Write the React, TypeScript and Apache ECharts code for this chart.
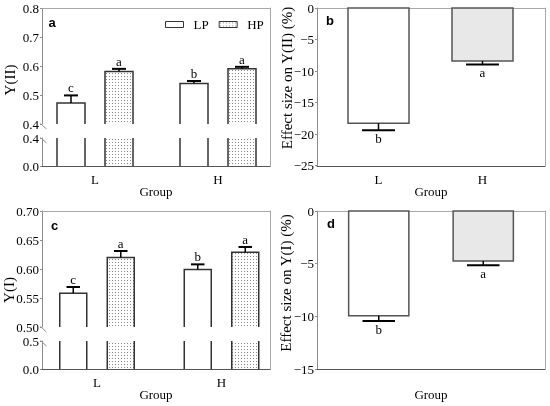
import React, { useEffect, useRef } from 'react';
import * as echarts from 'echarts';

// ---------- data ----------
const groups = ['L', 'H'];

// panel a : Y(II)
const yIILP = [0.473, 0.540];
const yIILPErr = [0.026, 0.009];
const yIIHP = [0.582, 0.591];
const yIIHPErr = [0.009, 0.007];
const yIILPLetters = ['c', 'b'];
const yIIHPLetters = ['a', 'a'];
const yIIUpperAxis = [0.4, 0.8, 0.1]; // min, max, interval
const yIILowerAxis = [0, 0.4, 0.4];

// panel b : effect size on Y(II)
const effIIValues = [-18.3, -8.4];
const effIIErr = [1.1, 0.55];
const effIILetters = ['b', 'a'];
const effIIAxis = [-25, 0, 5];

// panel c : Y(I)
const yILP = [0.558, 0.599];
const yILPErr = [0.011, 0.009];
const yIHP = [0.620, 0.629];
const yIHPErr = [0.011, 0.009];
const yILPLetters = ['c', 'b'];
const yIHPLetters = ['a', 'a'];
const yIUpperAxis = [0.5, 0.7, 0.05];
const yILowerAxis = [0, 0.5, 0.5];

// panel d : effect size on Y(I)
const effIValues = [-9.95, -4.75];
const effIErr = [0.5, 0.4];
const effILetters = ['b', 'a'];
const effIAxis = [-15, 0, 5];

// ---------- styles ----------
const SERIF = '"Liberation Serif", "Times New Roman", serif';
const SANS = '"Liberation Sans", Arial, sans-serif';
const AX_GRAY = '#8c8c8c';
const FRAME_GRAY = '#a8a8a8';
const BOTTOM_GRAY = '#555555';
const BAR_STROKE = '#333333';
const EFF_STROKE = '#555555';
const EFF_FILLS = ['#ffffff', '#e8e8e8'];

function makeDots() {
  const c = document.createElement('canvas');
  c.width = 3;
  c.height = 3;
  const ctx = c.getContext('2d')!;
  ctx.fillStyle = '#ffffff';
  ctx.fillRect(0, 0, 3, 3);
  ctx.fillStyle = '#8a8a8a';
  ctx.fillRect(1, 1, 1, 1);
  return { image: c, repeat: 'repeat', imageWidth: 3, imageHeight: 3 };
}

function frameX(gridIndex: number, position: string, color: string, name?: string) {
  return {
    type: 'value', gridIndex, position, min: 0, max: 1,
    axisLine: { show: true, onZero: false, lineStyle: { color, width: 1 } },
    axisTick: { show: false }, axisLabel: { show: false }, splitLine: { show: false },
    name: name || '', nameLocation: 'middle', nameGap: 19,
    nameTextStyle: { color: '#000', fontSize: 13, fontFamily: SERIF },
  };
}
function frameY(gridIndex: number, position: string, show: boolean) {
  return {
    type: 'value', gridIndex, position, min: 0, max: 1, show,
    axisLine: { show: true, onZero: false, lineStyle: { color: FRAME_GRAY, width: 1 } },
    axisTick: { show: false }, axisLabel: { show: false }, splitLine: { show: false },
  };
}
function catX(gridIndex: number, showLabels: boolean) {
  return {
    type: 'category', gridIndex, data: groups, position: 'bottom',
    axisLine: { show: false, onZero: false }, axisTick: { show: false },
    axisLabel: { show: showLabels, margin: 7, color: '#000', fontSize: 13, fontFamily: SERIF },
    splitLine: { show: false },
  };
}
function valY(gridIndex: number, ax: number[], offset: number, fmt: (v: number) => string) {
  return {
    type: 'value', gridIndex, position: 'left', min: ax[0], max: ax[1], interval: ax[2], offset,
    axisLine: { show: true, onZero: false, lineStyle: { color: AX_GRAY, width: 1 } },
    axisTick: { show: true, length: 2, lineStyle: { color: AX_GRAY } },
    axisLabel: { margin: 3, color: '#000', fontSize: 13, fontFamily: SERIF, formatter: fmt },
    splitLine: { show: false },
  };
}

function upperRender(side: number, wRatio: number, offRatio: number, letters: string[], fill: any) {
  return (params: any, api: any) => {
    const i = api.value(0);
    const v = api.value(1);
    const e = api.value(2);
    const cs = params.coordSys;
    const band = api.size([1, 0])[0];
    const w = band * wRatio;
    const p = api.coord([i, v]);
    const cx = p[0] + side * band * offRatio;
    const bottom = cs.y + cs.height;
    const top = Math.max(p[1], cs.y);
    const yErr = api.coord([i, v + e])[1];
    const x0 = cx - w / 2;
    const x1 = cx + w / 2;
    const cap = w * 0.25;
    return {
      type: 'group',
      children: [
        { type: 'rect', shape: { x: x0, y: top, width: w, height: bottom - top }, style: { fill } },
        { type: 'polyline', shape: { points: [[x0, bottom], [x0, top], [x1, top], [x1, bottom]] }, style: { stroke: BAR_STROKE, lineWidth: 1.5, fill: null } },
        { type: 'line', shape: { x1: cx, y1: top, x2: cx, y2: yErr }, style: { stroke: '#000', lineWidth: 1.5 } },
        { type: 'line', shape: { x1: cx - cap, y1: yErr, x2: cx + cap, y2: yErr }, style: { stroke: '#000', lineWidth: 2 } },
        { type: 'text', x: cx, y: yErr - 7.5, style: { text: letters[i], fill: '#000', fontSize: 13, fontFamily: SERIF, align: 'center', verticalAlign: 'middle' } },
      ],
    };
  };
}

function lowerRender(side: number, wRatio: number, offRatio: number, fill: any) {
  return (params: any, api: any) => {
    const i = api.value(0);
    const v = api.value(1);
    const cs = params.coordSys;
    const band = api.size([1, 0])[0];
    const w = band * wRatio;
    const p = api.coord([i, v]);
    const cx = p[0] + side * band * offRatio;
    const bottom = api.coord([i, 0])[1];
    const top = Math.max(p[1], cs.y);
    const x0 = cx - w / 2;
    const x1 = cx + w / 2;
    return {
      type: 'group',
      children: [
        { type: 'rect', shape: { x: x0, y: top, width: w, height: bottom - top }, style: { fill } },
        { type: 'line', shape: { x1: x0, y1: bottom, x2: x0, y2: top }, style: { stroke: BAR_STROKE, lineWidth: 1.5 } },
        { type: 'line', shape: { x1: x1, y1: bottom, x2: x1, y2: top }, style: { stroke: BAR_STROKE, lineWidth: 1.5 } },
      ],
    };
  };
}

function breakRender(axisOffset: number) {
  return (params: any, api: any) => {
    const y = api.coord([0, api.value(1)])[1];
    const x = params.coordSys.x - axisOffset;
    return { type: 'line', shape: { x1: x - 1.5, y1: y - 0.5, x2: x + 4.5, y2: y + 5 }, style: { stroke: AX_GRAY, lineWidth: 1 } };
  };
}

function effectRender(wRatio: number, letters: string[]) {
  return (params: any, api: any) => {
    const i = api.value(0);
    const v = api.value(1);
    const e = api.value(2);
    const band = api.size([1, 0])[0];
    const w = band * wRatio;
    const p = api.coord([i, v]);
    const cx = p[0];
    const y0 = api.coord([i, 0])[1];
    const yErr = api.coord([i, v - e])[1];
    const cap = w * 0.27;
    return {
      type: 'group',
      children: [
        { type: 'rect', shape: { x: cx - w / 2, y: y0, width: w, height: p[1] - y0 }, style: { fill: EFF_FILLS[i], stroke: EFF_STROKE, lineWidth: 1.5 } },
        { type: 'line', shape: { x1: cx, y1: p[1], x2: cx, y2: yErr }, style: { stroke: '#000', lineWidth: 1.5 } },
        { type: 'line', shape: { x1: cx - cap, y1: yErr, x2: cx + cap, y2: yErr }, style: { stroke: '#000', lineWidth: 2 } },
        { type: 'text', x: cx, y: yErr + 8, style: { text: letters[i], fill: '#000', fontSize: 13, fontFamily: SERIF, align: 'center', verticalAlign: 'middle' } },
      ],
    };
  };
}

const triples = (vals: number[], errs: number[]) => vals.map((v, i) => [i, v, errs[i]]);

export default function App() {
  const ref = useRef<HTMLDivElement>(null);
  useEffect(() => {
    if (!ref.current) return;
    const chart = echarts.init(ref.current, null, { renderer: 'svg' });
    const dots = makeDots();
    const f1 = (v: number) => v.toFixed(1);
    const f2 = (v: number) => v.toFixed(2);
    const fm = (v: number) => (v < 0 ? '\u2212' + Math.abs(v) : String(v));

    const A_OFF = -8.5; // y axis shift for a panels
    const C_OFF = -7.25;
    const B_OFF = 9.5;

    const grid = [
      { left: 42, top: 8, width: 228, height: 158 },      // 0 a frame
      { left: 33.5, top: 8.5, width: 246, height: 115.5 }, // 1 a upper
      { left: 33.5, top: 138, width: 246, height: 28 },    // 2 a lower
      { left: 317, top: 8, width: 228, height: 158 },     // 3 b frame
      { left: 326.5, top: 8, width: 208, height: 157.5 },  // 4 b bars
      { left: 42, top: 211, width: 228, height: 158 },    // 5 c frame
      { left: 34.75, top: 211, width: 249, height: 116 },  // 6 c upper
      { left: 34.75, top: 341, width: 249, height: 28 },   // 7 c lower
      { left: 317, top: 211, width: 228, height: 158 },   // 8 d frame
      { left: 326.5, top: 211, width: 209, height: 158 },  // 9 d bars
    ].map((g) => ({ ...g, containLabel: false, outerBoundsMode: 'none' }));

    const xAxis = [
      frameX(0, 'bottom', BOTTOM_GRAY, 'Group'), // 0
      frameX(0, 'top', FRAME_GRAY),             // 1
      catX(1, false),                            // 2
      catX(2, true),                             // 3
      frameX(3, 'bottom', BOTTOM_GRAY, 'Group'), // 4
      frameX(3, 'top', FRAME_GRAY),             // 5
      catX(4, true),                             // 6
      frameX(5, 'bottom', BOTTOM_GRAY, 'Group'), // 7
      frameX(5, 'top', FRAME_GRAY),             // 8
      catX(6, false),                            // 9
      catX(7, true),                             // 10
      frameX(8, 'bottom', BOTTOM_GRAY, 'Group'), // 11
      frameX(8, 'top', FRAME_GRAY),             // 12
      catX(9, false),                            // 13
    ];
    const yAxis = [
      frameY(0, 'left', false),                  // 0
      frameY(0, 'right', true),                  // 1
      valY(1, yIIUpperAxis, A_OFF, f1),          // 2
      valY(2, yIILowerAxis, A_OFF, f1),          // 3
      frameY(3, 'left', false),                  // 4
      frameY(3, 'right', true),                  // 5
      valY(4, effIIAxis, B_OFF, fm),             // 6
      frameY(5, 'left', false),                  // 7
      frameY(5, 'right', true),                  // 8
      valY(6, yIUpperAxis, C_OFF, f2),           // 9
      valY(7, yILowerAxis, C_OFF, f1),           // 10
      frameY(8, 'left', false),                  // 11
      frameY(8, 'right', true),                  // 12
      valY(9, effIAxis, B_OFF, fm),              // 13
    ];

    const AW = 28 / 123, AO = 24 / 123;
    const CW = 27 / 124.5, CO = 23.75 / 124.5;

    const cs = (name: string, xi: number, yi: number, data: any[], renderItem: any) => ({
      type: 'custom', name, xAxisIndex: xi, yAxisIndex: yi, data, renderItem,
      encode: { x: 0, y: 1 }, silent: true, z: 3,
    });

    const series = [
      // panel a
      cs('LP', 2, 2, triples(yIILP, yIILPErr), upperRender(-1, AW, AO, yIILPLetters, '#ffffff')),
      cs('HP', 2, 2, triples(yIIHP, yIIHPErr), upperRender(1, AW, AO, yIIHPLetters, dots)),
      cs('LP', 3, 3, triples(yIILP, yIILPErr), lowerRender(-1, AW, AO, '#ffffff')),
      cs('HP', 3, 3, triples(yIIHP, yIIHPErr), lowerRender(1, AW, AO, dots)),
      cs('break', 2, 2, [[0, yIIUpperAxis[0]]], breakRender(A_OFF)),
      cs('break', 3, 3, [[0, yIILowerAxis[1]]], breakRender(A_OFF)),
      // panel b
      cs('effII', 6, 6, triples(effIIValues, effIIErr), effectRender(61 / 104, effIILetters)),
      // panel c
      cs('LP', 9, 9, triples(yILP, yILPErr), upperRender(-1, CW, CO, yILPLetters, '#ffffff')),
      cs('HP', 9, 9, triples(yIHP, yIHPErr), upperRender(1, CW, CO, yIHPLetters, dots)),
      cs('LP', 10, 10, triples(yILP, yILPErr), lowerRender(-1, CW, CO, '#ffffff')),
      cs('HP', 10, 10, triples(yIHP, yIHPErr), lowerRender(1, CW, CO, dots)),
      cs('break', 9, 9, [[0, yIUpperAxis[0]]], breakRender(C_OFF)),
      cs('break', 10, 10, [[0, yILowerAxis[1]]], breakRender(C_OFF)),
      // panel d
      cs('effI', 13, 13, triples(effIValues, effIErr), effectRender(60.5 / 105, effILetters)),
    ];

    const txt = (text: string, x: number, y: number, size: number, rot: number, font = SERIF, weight = 'normal') => ({
      type: 'text', x, y, rotation: rot, silent: true,
      style: { text, fill: '#000', fontSize: size, fontFamily: font, fontWeight: weight, align: 'center', verticalAlign: 'middle' },
    });

    chart.setOption({
      animation: false,
      textStyle: { fontFamily: SERIF },
      grid, xAxis, yAxis, series,
      legend: {
        left: 165, top: 18, padding: 0, itemWidth: 18, itemHeight: 6, itemGap: 10, selectedMode: false,
        textStyle: { fontSize: 13, fontFamily: SERIF, color: '#000', padding: [0, 0, 0, 5] },
        data: [
          { name: 'LP', icon: 'rect', itemStyle: { color: '#ffffff', borderColor: BAR_STROKE, borderWidth: 1 } },
          { name: 'HP', icon: 'rect', itemStyle: { color: dots, borderColor: BAR_STROKE, borderWidth: 1 } },
        ],
      },
      graphic: [
        txt('Y(II)', 10, 80, 15, Math.PI / 2),
        txt('Effect size on Y(II) (%)', 287, 78, 15, Math.PI / 2),
        txt('Y(I)', 9, 290, 15, Math.PI / 2),
        txt('Effect size on Y(I) (%)', 286, 283, 15, Math.PI / 2),
        txt('a', 52, 22.5, 13, 0, SANS, 'bold'),
        txt('b', 330, 20, 13, 0, SANS, 'bold'),
        txt('c', 54.5, 225.5, 13, 0, SANS, 'bold'),
        txt('d', 331, 223.5, 13, 0, SANS, 'bold'),
      ],
    });
    return () => chart.dispose();
  }, []);
  return <div ref={ref} style={{ position: 'fixed', left: 0, top: 0, width: 550, height: 406 }} />;
}
